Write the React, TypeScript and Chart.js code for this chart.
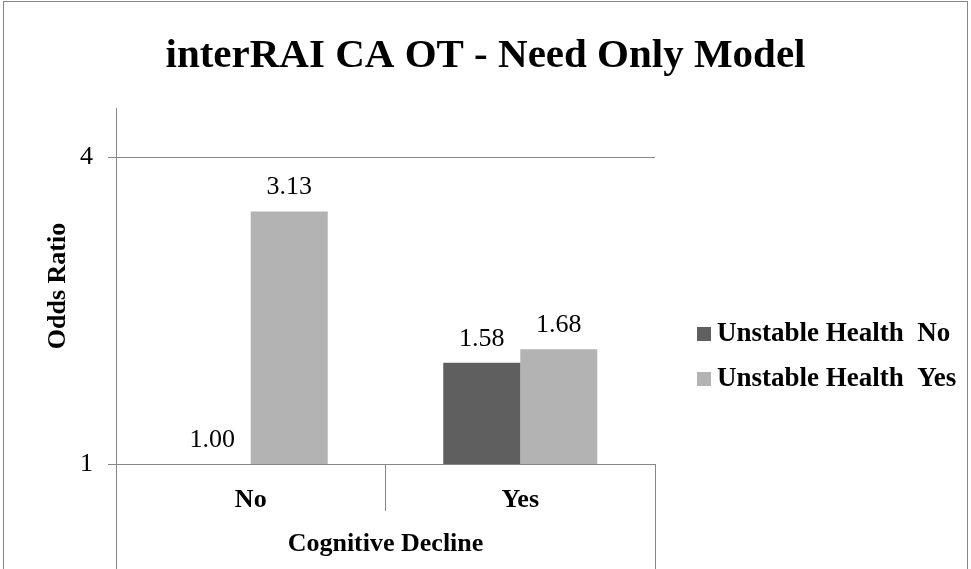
import React, { useEffect, useRef } from 'react';
import { Chart, registerables } from 'chart.js';

Chart.register(...registerables);

// ---- data ----
const CATEGORIES = ['No', 'Yes'];
const OUTER_CATEGORY = ['Cognitive Decline'];
const SERIES_NAMES = ['Unstable Health  No', 'Unstable Health  Yes'];
const UNSTABLE_NO = [1.0, 1.58];
const UNSTABLE_YES = [3.13, 1.68];
const Y_TICKS = [1, 4];
const CHART_TITLE = 'interRAI CA OT - Need Only Model';
const Y_TITLE = 'Odds Ratio';

// ---- style ----
const FONT = "'Liberation Serif', 'Times New Roman', serif";
const GRAY = '#868686';
const COLORS = ['#5f5f5f', '#b3b3b3'];

const framePlugin = {
  id: 'frame',
  beforeDraw(chart: any) {
    const { ctx } = chart;
    ctx.save();
    ctx.fillStyle = '#ffffff';
    ctx.fillRect(0, 0, chart.width, chart.height);
    ctx.strokeStyle = GRAY;
    ctx.lineWidth = 1;
    ctx.strokeRect(3.5, 1.5, chart.width - 7, chart.height + 50);
    ctx.restore();
  },
};

const valueLabelPlugin = {
  id: 'valueLabels',
  afterDatasetsDraw(chart: any) {
    const { ctx } = chart;
    ctx.save();
    ctx.font = `26px ${FONT}`;
    ctx.fillStyle = '#000';
    ctx.textAlign = 'center';
    ctx.textBaseline = 'middle';
    chart.data.datasets.forEach((ds: any, di: number) => {
      const meta = chart.getDatasetMeta(di);
      meta.data.forEach((bar: any, i: number) => {
        ctx.fillText(Number(ds.data[i]).toFixed(2), bar.x, bar.y - 24);
      });
    });
    ctx.restore();
  },
};

const legendPlugin = {
  id: 'sideLegend',
  afterDraw(chart: any) {
    const { ctx } = chart;
    const x0 = chart.chartArea.right + 42;
    const y0 = 334;
    const step = 45;
    ctx.save();
    ctx.font = `bold 27px ${FONT}`;
    ctx.textAlign = 'left';
    ctx.textBaseline = 'middle';
    chart.data.datasets.forEach((ds: any, i: number) => {
      const cy = y0 + i * step;
      ctx.fillStyle = ds.backgroundColor;
      ctx.fillRect(x0, cy - 7, 14, 14);
      ctx.fillStyle = '#000';
      ctx.fillText(ds.label, x0 + 20, cy);
    });
    ctx.restore();
  },
};

export default function App() {
  const ref = useRef<HTMLCanvasElement>(null);

  useEffect(() => {
    document.body.style.margin = '0';
    const chart = new Chart(ref.current as HTMLCanvasElement, {
      type: 'bar',
      data: {
        labels: CATEGORIES,
        datasets: [
          { label: SERIES_NAMES[0], data: UNSTABLE_NO, backgroundColor: COLORS[0], xAxisID: 'x', yAxisID: 'y' },
          { label: SERIES_NAMES[1], data: UNSTABLE_YES, backgroundColor: COLORS[1], xAxisID: 'x', yAxisID: 'y' },
        ],
      },
      options: {
        responsive: false,
        animation: false,
        devicePixelRatio: 1,
        layout: { padding: { left: 0, right: 0, top: 0, bottom: 0 } },
        datasets: { bar: { categoryPercentage: 0.5714, barPercentage: 1 } },
        plugins: {
          legend: { display: false },
          tooltip: { enabled: false },
          title: {
            display: true,
            text: CHART_TITLE,
            color: '#000',
            font: { family: FONT, size: 41, weight: 'bold' },
            padding: { top: 32, bottom: 26.8 },
          },
        },
        scales: {
          x: {
            type: 'category',
            position: 'bottom',
            weight: 0,
            offset: true,
            grid: { offset: true, drawOnChartArea: false, drawTicks: true, tickLength: 47, color: GRAY },
            border: { display: true, color: GRAY },
            ticks: { color: '#000', font: { family: FONT, size: 26, weight: 'bold' }, padding: -26.6, maxRotation: 0 },
            afterFit: (s: any) => { s.height = 47; },
          },
          x2: {
            type: 'category',
            position: 'bottom',
            weight: 1,
            labels: OUTER_CATEGORY,
            offset: true,
            grid: { offset: true, drawOnChartArea: false, drawTicks: true, tickLength: 58, color: GRAY },
            border: { display: false },
            ticks: { color: '#000', font: { family: FONT, size: 26, weight: 'bold' }, padding: -40.6, maxRotation: 0 },
            afterFit: (s: any) => { s.height = 58; },
          },
          y: {
            type: 'logarithmic',
            position: 'left',
            min: 1,
            max: 5,
            afterBuildTicks: (s: any) => { s.ticks = Y_TICKS.map((v) => ({ value: v })); },
            ticks: {
              color: '#000',
              font: { family: FONT, size: 26 },
              padding: 15,
              callback: (v: any) => String(v),
            },
            grid: { color: GRAY, drawTicks: true, tickLength: 8 },
            border: { display: true, color: GRAY },
            title: {
              display: true,
              text: Y_TITLE,
              color: '#000',
              font: { family: FONT, size: 26, weight: 'bold' },
              padding: { top: 42.4, bottom: 0 },
            },
            afterFit: (s: any) => { s.width = 116; },
          },
          spacer: {
            type: 'linear',
            position: 'right',
            display: true,
            grid: { display: false, drawTicks: false },
            border: { display: false },
            ticks: { display: false },
            afterFit: (s: any) => { s.width = 316; },
          },
        },
      },
      plugins: [framePlugin, valueLabelPlugin, legendPlugin],
    } as any);
    return () => chart.destroy();
  }, []);

  return (
    <div style={{ position: 'fixed', left: 0, top: 0, width: 971, height: 569, background: '#fff' }}>
      <canvas ref={ref} width={971} height={569} style={{ display: 'block', width: 971, height: 569 }} />
    </div>
  );
}
